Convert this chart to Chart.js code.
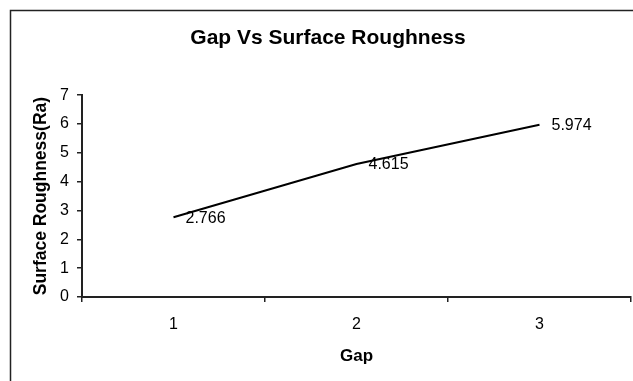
<!DOCTYPE html>
<html>
<head>
<meta charset="utf-8">
<script src="https://cdn.jsdelivr.net/npm/chart.js@4"></script>
<style>
html,body{margin:0;padding:0;background:#fff;overflow:hidden;}
canvas{display:block;}
</style>
</head>
<body>
<canvas id="c" width="633" height="381"></canvas>
<script>
const categories = ["1", "2", "3"];
const roughness = [2.766, 4.615, 5.974];
const yTicks = [0, 1, 2, 3, 4, 5, 6, 7];

const FONT = "'Liberation Sans', Arial, sans-serif";

const framePlugin = {
  id: 'frame',
  beforeDraw(chart) {
    const ctx = chart.ctx;
    ctx.save();
    ctx.fillStyle = '#fff';
    ctx.fillRect(0, 0, chart.width, chart.height);
    ctx.strokeStyle = '#222';
    ctx.lineWidth = 1.5;
    ctx.strokeRect(10.5, 10.5, chart.width + 20, chart.height + 20);
    ctx.restore();
  }
};

const labelPlugin = {
  id: 'valueLabels',
  afterDatasetsDraw(chart) {
    const ctx = chart.ctx;
    const meta = chart.getDatasetMeta(0);
    ctx.save();
    ctx.font = "16px " + FONT;
    ctx.fillStyle = '#000';
    ctx.textAlign = 'left';
    ctx.textBaseline = 'middle';
    meta.data.forEach((pt, i) => {
      ctx.fillText(String(roughness[i]), pt.x + 12, pt.y + 1);
    });
    ctx.restore();
  }
};

new Chart(document.getElementById('c'), {
  type: 'line',
  data: {
    labels: categories,
    datasets: [{
      data: roughness,
      borderColor: '#000',
      borderWidth: 2,
      pointRadius: 0,
      tension: 0,
      fill: false
    }]
  },
  options: {
    responsive: false,
    animation: false,
    layout: { padding: { left: 25, right: 2, top: 0, bottom: 0 } },
    plugins: {
      legend: { display: false },
      tooltip: { enabled: false },
      title: {
        display: true,
        text: 'Gap Vs Surface Roughness',
        color: '#000',
        font: { family: FONT, size: 21, weight: 'bold' },
        padding: { top: 26, bottom: 44 }
      }
    },
    scales: {
      x: {
        type: 'category',
        offset: true,
        grid: { offset: true, drawOnChartArea: false, drawTicks: true, tickLength: 5, color: '#222', lineWidth: 1.5 },
        border: { color: '#222', width: 2 },
        ticks: { color: '#000', font: { family: FONT, size: 16 }, padding: 13, maxRotation: 0 },
        title: {
          display: true,
          text: 'Gap',
          color: '#000',
          font: { family: FONT, size: 17, weight: 'bold' },
          padding: { top: 0, bottom: 14 }
        },
        afterFit(scale) { scale.height = 84; }
      },
      y: {
        min: 0,
        max: 7,
        afterBuildTicks(scale) { scale.ticks = yTicks.map(v => ({ value: v })); },
        grid: { drawOnChartArea: false, drawTicks: true, tickLength: 5, color: '#222', lineWidth: 1.5 },
        border: { color: '#222', width: 2 },
        ticks: { color: '#000', font: { family: FONT, size: 16 }, padding: 8 },
        title: {
          display: true,
          text: 'Surface Roughness(Ra)',
          color: '#000',
          font: { family: FONT, size: 17.5, weight: 'bold' },
          padding: { top: 6, bottom: 0 }
        },
        afterFit(scale) { scale.width = 57; }
      }
    }
  },
  plugins: [framePlugin, labelPlugin]
});
</script>
</body>
</html>
